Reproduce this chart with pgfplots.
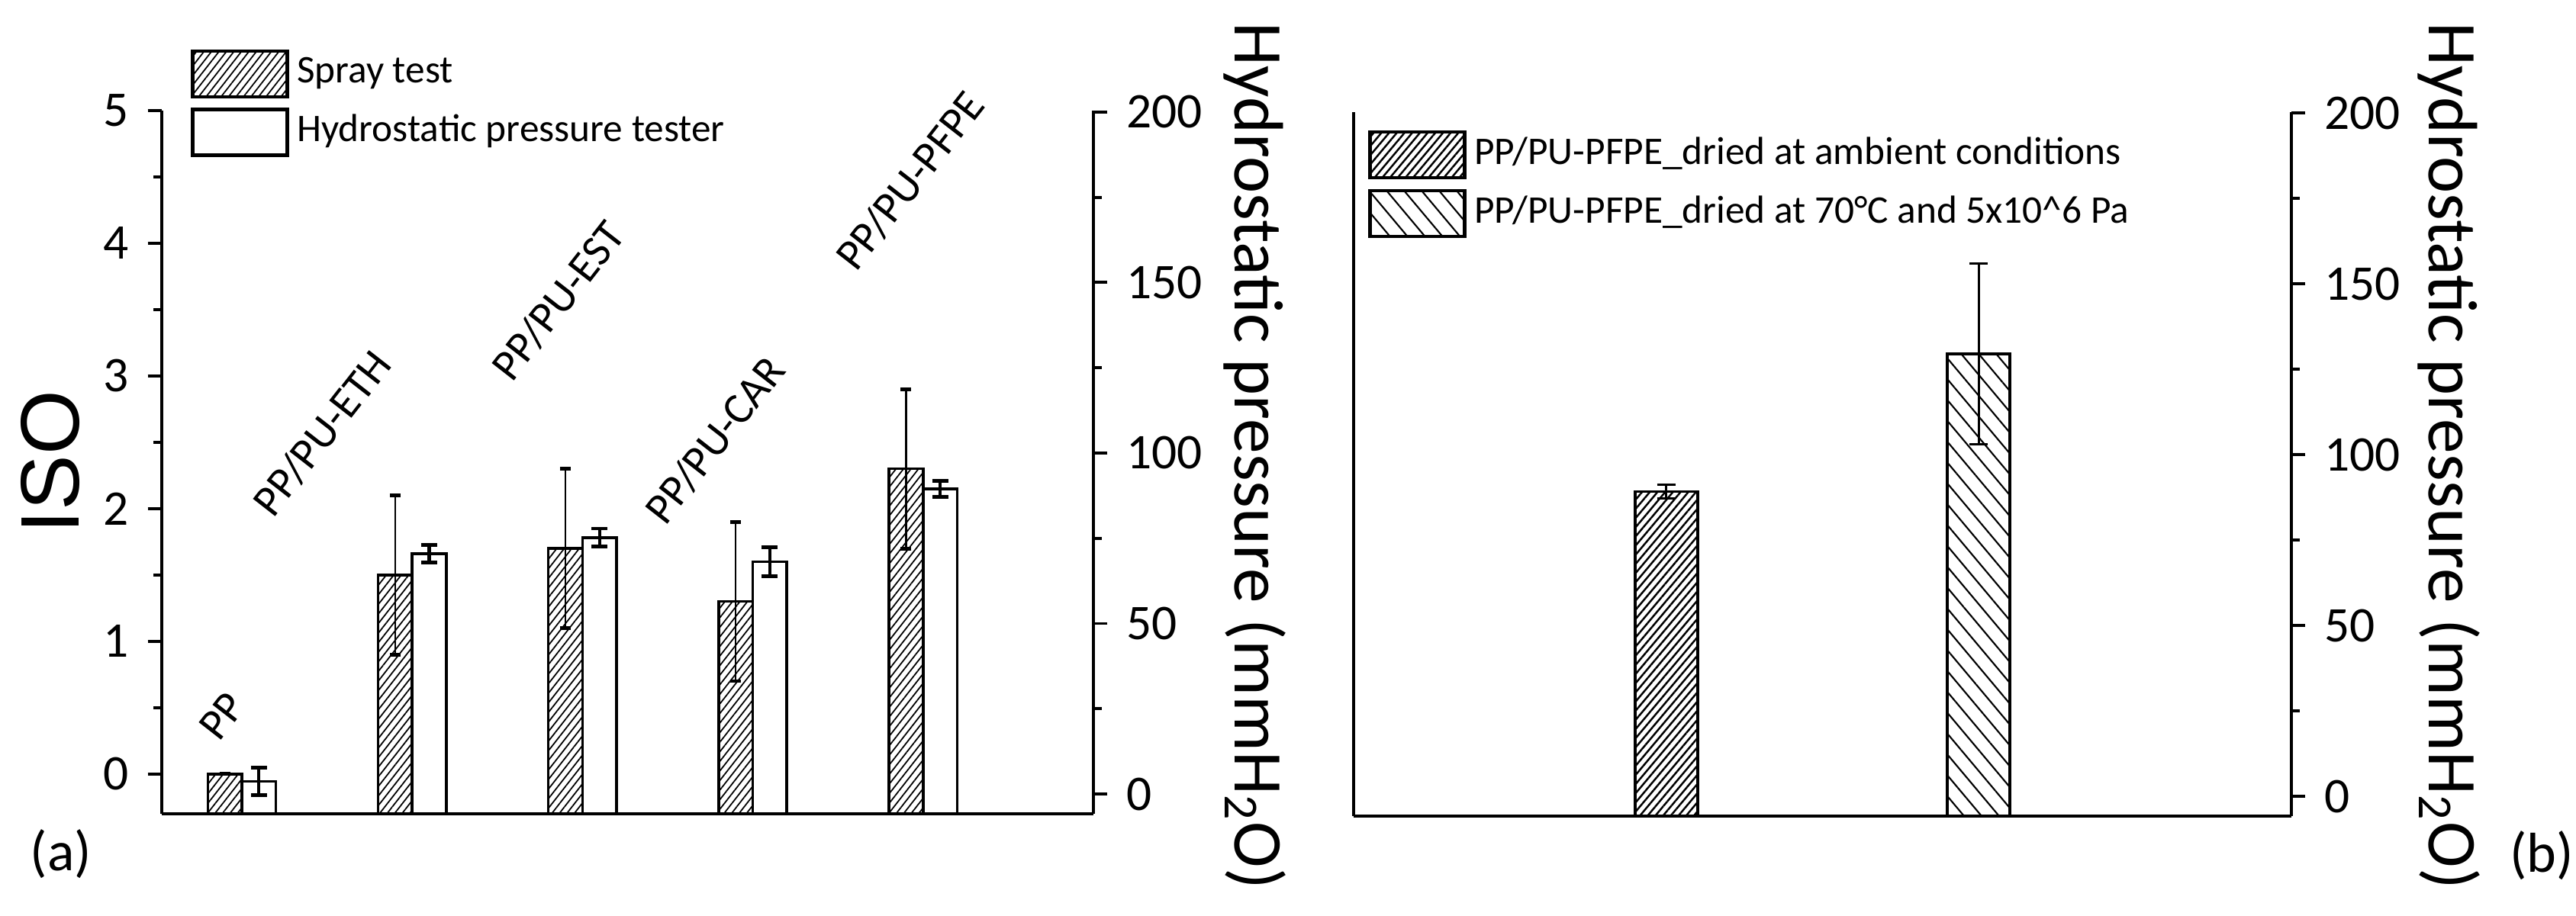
\documentclass[border=0pt]{standalone}
\usepackage{fontspec}
\setmainfont{Carlito}
\newfontfamily\arialfont{Liberation Sans}
\usepackage{pgfplots}
\usepackage{pgfplotstable}
\pgfplotsset{compat=1.18}
\usetikzlibrary{patterns.meta}

% spray test (ISO), bars left of each category centre
\pgfplotstableread{
x    y    e
0.9  0    0
1.9  1.5  0.6
2.9  1.7  0.6
3.9  1.3  0.6
4.9  2.3  0.6
}\spraydata
% hydrostatic pressure (mmH2O), bars right of each category centre
\pgfplotstableread{
x    y     e
1.1  3.7   4.0
2.1  70.5  2.6
3.1  75.2  2.65
4.1  68.1  4.3
5.1  89.5  2.4
}\hydrodata
\pgfplotstableread{
x  y     e
1  89.2  2.05
}\ambientdata
\pgfplotstableread{
x  y      e
2  129.5  26.5
}\drieddata

\begin{document}
\begin{tikzpicture}
\useasboundingbox (0,0) rectangle (16.88,-6.005);
\pgfplotsset{
  myaxis/.style={
    scale only axis,
    axis line style={line width=0.55pt,-},
    every tick/.style={line width=0.55pt,black},
    tick align=outside,
    major tick length=2.6pt,
    minor tick length=1.5pt,
    /pgf/number format/assume math mode=true,
    ticklabel style={font=\fontsize{9.3}{11}\selectfont},
    clip=false,
    legend cell align=left,
  },
}
% ---------- panel (a): spray test (left axis)
\begin{axis}[myaxis,
  at={(1.06cm,-5.335cm)}, anchor=south west,
  width=6.105cm, height=4.61cm,
  xmin=0.53, xmax=6,
  ymin=-0.3, ymax=5,
  y coord trafo/.code={\pgfmathparse{#1+0.3}},
  y coord inv trafo/.code={\pgfmathparse{#1-0.3}},
  axis x line*=bottom, axis y line*=left,
  xtick=\empty,
  ytick={0,1,2,3,4,5}, yticklabels={0,1,2,3,4,5},
  minor ytick={0.5,1.5,2.5,3.5,4.5},
]
\addplot[ybar, bar width=0.2, bar shift=0, draw=black, line width=0.5pt,
  pattern={Lines[angle=52,distance=1.1pt,line width=0.25pt]},
  error bars/.cd, y dir=both, y explicit,
  error bar style={line width=0.35pt, solid},
  error mark options={rotate=90, mark size=1pt, line width=0.7pt}]
  table[x=x, y=y, y error=e] {\spraydata};
\end{axis}
% ---------- panel (a): hydrostatic (right axis)
\begin{axis}[myaxis,
  at={(1.06cm,-5.335cm)}, anchor=south west,
  width=6.105cm, height=4.61cm,
  xmin=0.53, xmax=6,
  ymin=-5.8, ymax=200.4,
  y coord trafo/.code={\pgfmathparse{#1+5.8}},
  y coord inv trafo/.code={\pgfmathparse{#1-5.8}},
  axis x line=none, axis y line*=right,
  xtick=\empty,
  ytick={0,50,100,150,200}, yticklabels={0,50,100,150,200},
  minor ytick={25,75,125,175},
  legend style={at={(axis description cs:0.0303,1.089)}, anchor=north west,
    draw=none, fill=none, font=\fontsize{7.3}{8.8}\selectfont,
    row sep=1.5pt, inner sep=0pt, nodes={inner sep=1.5pt}},
]
\addlegendimage{legend image code/.code={\draw[line width=0.6pt, pattern={Lines[angle=52,distance=1.1pt,line width=0.25pt]}] (0cm,-0.15cm) rectangle (0.62cm,0.15cm);}}
\addlegendentry{Spray test}
\addlegendimage{legend image code/.code={\draw[line width=0.6pt, fill=white] (0cm,-0.15cm) rectangle (0.62cm,0.15cm);}}
\addlegendentry{Hydrostatic pressure tester}
\addplot[forget plot, ybar, bar width=0.2, bar shift=0, draw=black, fill=white, line width=0.5pt,
  error bars/.cd, y dir=both, y explicit,
  error bar style={line width=0.6pt, solid},
  error mark options={rotate=90, mark size=1.5pt, line width=0.7pt}]
  table[x=x, y=y, y error=e] {\hydrodata};
\end{axis}
% ---------- panel (b)
\begin{axis}[myaxis,
  at={(8.87cm,-5.35cm)}, anchor=south west,
  width=6.145cm, height=4.615cm,
  xmin=0, xmax=3,
  ymin=-5.8, ymax=200.3,
  y coord trafo/.code={\pgfmathparse{#1+5.8}},
  y coord inv trafo/.code={\pgfmathparse{#1-5.8}},
  axis x line*=bottom, axis y line*=right,
  xtick=\empty,
  ytick={0,50,100,150,200}, yticklabels={0,50,100,150,200},
  minor ytick={25,75,125,175},
  extra description/.code={\draw[line width=0.55pt] (rel axis cs:0,0) -- (rel axis cs:0,1);},
  legend style={at={(axis description cs:0.0146,0.977)}, anchor=north west,
    draw=none, fill=none, font=\fontsize{7.3}{8.8}\selectfont,
    row sep=1.3pt, inner sep=0pt, nodes={inner sep=1.5pt}},
]
\addlegendimage{legend image code/.code={\draw[line width=0.6pt, pattern={Lines[angle=50,distance=1.1pt,line width=0.35pt]}] (0cm,-0.15cm) rectangle (0.62cm,0.15cm);}}
\addlegendentry{PP/PU-PFPE\_dried at ambient conditions}
\addlegendimage{legend image code/.code={\draw[line width=0.6pt, pattern={Lines[angle=-50,distance=2.5pt,line width=0.3pt]}] (0cm,-0.15cm) rectangle (0.62cm,0.15cm);}}
\addlegendentry{PP/PU-PFPE\_dried at 70°C and 5x10\^{}6 Pa}
\addplot[forget plot, ybar, bar width=0.2, bar shift=0, draw=black, line width=0.55pt,
  pattern={Lines[angle=50,distance=1.1pt,line width=0.35pt]},
  error bars/.cd, y dir=both, y explicit,
  error bar style={line width=0.35pt, solid},
  error mark options={rotate=90, mark size=1.7pt, line width=0.4pt}]
  table[x=x, y=y, y error=e] {\ambientdata};
\addplot[forget plot, ybar, bar width=0.2, bar shift=0, draw=black, line width=0.55pt,
  pattern={Lines[angle=-50,distance=2.5pt,line width=0.3pt]},
  error bars/.cd, y dir=both, y explicit,
  error bar style={line width=0.35pt, solid},
  error mark options={rotate=90, mark size=1.7pt, line width=0.4pt}]
  table[x=x, y=y, y error=e] {\drieddata};
\end{axis}
% ---------- texts
\node[font=\arialfont\fontsize{15.5}{18}\selectfont, rotate=90] at (0.33,-3.03) {ISO};
\node[font=\fontsize{13}{15}\selectfont, rotate=-90, anchor=base] at (8.09,-2.99) {Hydrostatic pressure (mmH\textsubscript{2}O)};
\node[font=\fontsize{13}{15}\selectfont, rotate=-90, anchor=base] at (15.915,-2.99) {Hydrostatic pressure (mmH\textsubscript{2}O)};
\node[font=\fontsize{10.5}{13}\selectfont] at (0.40,-5.6) {(a)};
\node[font=\fontsize{10.5}{13}\selectfont, anchor=east, inner sep=0pt] at (16.87,-5.61) {(b)};
\begin{scope}[every node/.style={font=\fontsize{8.2}{9.8}\selectfont, rotate=52}]
\node at (1.455,-4.695) {PP};
\node at (2.11,-2.84) {PP/PU-ETH};
\node at (3.66,-1.97) {PP/PU-EST};
\node at (4.685,-2.885) {PP/PU-CAR};
\node at (5.965,-1.185) {PP/PU-PFPE};
\end{scope}
\end{tikzpicture}
\end{document}
